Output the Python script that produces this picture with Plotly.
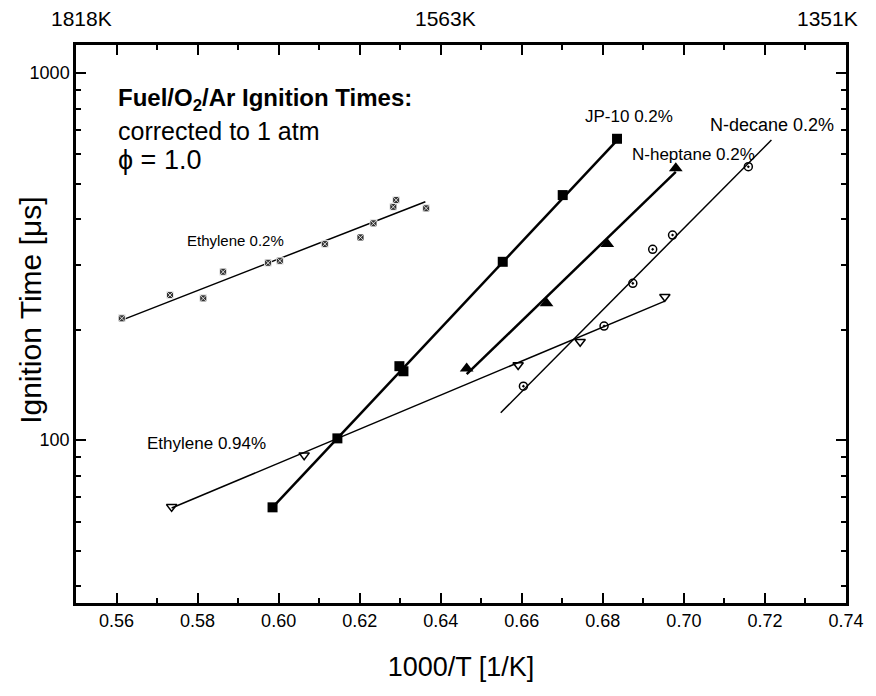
import math
import plotly.graph_objects as go

# ---------------- data ----------------
eth02_x = [0.5613, 0.5732, 0.5814, 0.5863, 0.5974, 0.6003, 0.6114, 0.6202, 0.6234, 0.6283, 0.6290, 0.6364]
eth02_y = [214.6, 248.4, 243.3, 287.5, 304.1, 308.0, 342.0, 356.6, 389.5, 432.0, 450.8, 427.9]
eth02_fit_x = [0.5613, 0.6362]
eth02_fit_y = [212.3, 446.0]

jp10_x = [0.5985, 0.6145, 0.6298, 0.6308, 0.6553, 0.6701, 0.6835]
jp10_y = [65.6, 101.1, 159.0, 154.0, 306.0, 465.0, 662.0]
jp10_fit_x = [0.5985, 0.6835]
jp10_fit_y = [65.6, 655.0]

hept_x = [0.6464, 0.6661, 0.6811, 0.6980]
hept_y = [156.8, 235.8, 342.0, 549.9]
hept_fit_x = [0.6464, 0.6980]
hept_fit_y = [151.3, 537.6]

dec_x = [0.6604, 0.6803, 0.6874, 0.6923, 0.6972, 0.7159]
dec_y = [140.3, 204.5, 267.3, 330.9, 361.9, 555.5]
dec_fit_x = [0.6548, 0.7216]
dec_fit_y = [118.7, 657.0]

eth094_x = [0.5736, 0.6063, 0.6591, 0.6744, 0.6953]
eth094_y = [65.8, 91.0, 160.2, 185.3, 245.7]
eth094_fit_x = [0.5736, 0.6953]
eth094_fit_y = [65.3, 239.2]

top_tick_x = [0.55, 0.64, 0.74]
top_tick_text = ["1818K", "1563K", "1351K"]

y_major = [100, 1000]
y_major_text = ["100", "1000"]
y_minor = [40, 50, 60, 70, 80, 90, 200, 300, 400, 500, 600, 700, 800, 900]

FONT = "Liberation Sans, Arial, sans-serif"

fig = go.Figure()

def add_series(fx, fy, px, py, lw, sym, size, color="black", line_color="black", mlw=1.5):
    fig.add_trace(go.Scatter(x=fx, y=fy, mode="lines",
                             line=dict(color="black", width=lw),
                             showlegend=False, hoverinfo="skip"))
    fig.add_trace(go.Scatter(x=px, y=py, mode="markers",
                             marker=dict(symbol=sym, size=size, color=color,
                                         line=dict(color=line_color, width=mlw)),
                             showlegend=False))

add_series(eth02_fit_x, eth02_fit_y, eth02_x, eth02_y, 1.5, "square-x", 7, "#333", "white", 0.8)
add_series(jp10_fit_x, jp10_fit_y, jp10_x, jp10_y, 2.5, "square", 10, "black", "black", 0)
add_series(hept_fit_x, hept_fit_y, hept_x, hept_y, 2.5, "triangle-up", 12, "black", "black", 0)
add_series(dec_fit_x, dec_fit_y, dec_x, dec_y, 1.5, "circle-open-dot", 8, "black", "black", 1.5)
add_series(eth094_fit_x, eth094_fit_y, eth094_x, eth094_y, 1.5, "triangle-down-open", 9, "black", "black", 1.5)

annotations = []
for i, (xv, tx) in enumerate(zip(top_tick_x, top_tick_text)):
    last = i == len(top_tick_x) - 1
    annotations.append(dict(x=xv, y=1, xref="x", yref="paper", text=tx, showarrow=False,
                            xanchor="right" if last else "center",
                            xshift=14 if last else 5,
                            yanchor="middle", yshift=27,
                            font=dict(size=21, color="black", family=FONT)))

def label(text, x, y, size, xanchor="left", angle=0):
    annotations.append(dict(x=x, y=y, xref="paper", yref="paper", text=text, showarrow=False,
                            xanchor=xanchor, yanchor="middle", textangle=angle,
                            font=dict(size=size, color="black", family=FONT)))

label("<b>Fuel/O<sub>2</sub>/Ar Ignition Times:</b>", 0.052, 0.902, 24)
label("corrected to 1 atm", 0.052, 0.846, 25)
label("\u03d5 = 1.0", 0.052, 0.794, 27)
label("Ethylene 0.2%", 0.1416, 0.6505, 15)
label("Ethylene 0.94%", 0.0896, 0.2867, 17)
label("JP-10 0.2%", 0.659, 0.8710, 17)
label("N-heptane 0.2%", 0.7195, 0.8029, 17)
label("N-decane 0.2%", 0.8208, 0.8566, 18)
# y-axis title placed as rotated text
label("Ignition Time [\u03bcs]", -0.060, 0.525, 30, "center", -90)

fig.update_layout(
    width=876, height=696,
    margin=dict(l=76, r=30, t=45, b=93),
    paper_bgcolor="white", plot_bgcolor="white",
    font=dict(family=FONT, color="black"),
    annotations=annotations,
    xaxis=dict(
        range=[0.55, 0.74], tick0=0.56, dtick=0.02, tickformat=".2f",
        ticks="inside", ticklen=10, tickwidth=2, tickcolor="black",
        showline=True, linewidth=2.5, linecolor="black", mirror="allticks",
        showgrid=False, zeroline=False, automargin=False,
        minor=dict(tick0=0.55, dtick=0.01, ticks="inside", ticklen=5, tickwidth=2, tickcolor="black", showgrid=False),
        tickfont=dict(size=18, family=FONT),
        title=dict(text="1000/T [1/K]", font=dict(size=27, family=FONT), standoff=27),
    ),
    yaxis=dict(
        type="log", range=[math.log10(36), math.log10(1192)],
        tickmode="array", tickvals=y_major, ticktext=y_major_text,
        ticks="inside", ticklen=10, tickwidth=2, tickcolor="black",
        showline=True, linewidth=2.5, linecolor="black", mirror="allticks",
        showgrid=False, zeroline=False, automargin=False,
        minor=dict(tickmode="array", tickvals=y_minor, ticks="inside", ticklen=5, tickwidth=2, tickcolor="black", showgrid=False),
        tickfont=dict(size=18, family=FONT),
    ),
)

fig.write_html("out.html", config={"displayModeBar": False},
               post_script="document.body.style.margin='0';document.body.style.overflow='hidden';")
